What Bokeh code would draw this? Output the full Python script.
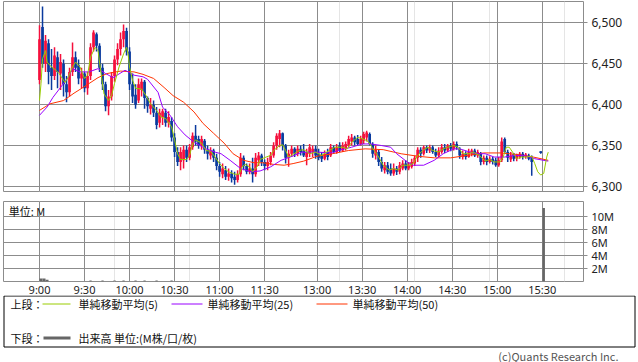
from bokeh.plotting import figure
from bokeh.layouts import column
from bokeh.models import Range1d, FixedTicker, NumeralTickFormatter, ColumnDataSource, Grid, Label
from bokeh.embed import file_html
from bokeh.resources import INLINE
from bokeh.core.properties import value

FONT = "Noto Sans CJK JP"
NUMFONT = "Noto Sans"

# time axis: minute index (9:00 = 0, lunch compressed, 15:30 = 335)
tick_idx = [0, 30, 60, 90, 120, 150, 185, 215, 245, 275, 305, 335]
tick_lbl = ["9:00", "9:30", "10:00", "10:30", "11:00", "11:30",
            "13:00", "13:30", "14:00", "14:30", "15:00", "15:30"]
price_ticks = [6300, 6350, 6400, 6450, 6500]
vol_ticks = [2, 4, 6, 8, 10]

# 2-minute bars (open, high, low, close), last one is the 15:30 close
bar_t = list(range(0, 330, 2)) + [334]
op = [6430,6495,6450,6475,6445,6435,6458,6438,6450,6425,6415,6440,6458,6448,6432,6438,6420,6435,6470,6486,
      6472,6445,6425,6398,6410,6435,6455,6468,6480,6490,6465,6425,6412,6405,6418,6428,6408,6395,6400,6390,
      6378,6385,6390,6378,6380,6360,6342,6330,6332,6345,6335,6348,6362,6358,6350,6356,6345,6338,6344,6335,
      6325,6315,6320,6312,6316,6312,6308,6315,6335,6325,6318,6322,6315,6332,6338,6330,6325,6330,6338,6350,
      6358,6365,6350,6335,6340,6346,6340,6346,6344,6336,6340,6342,6346,6340,6338,6334,6342,6338,6348,6342,
      6350,6344,6346,6350,6355,6360,6358,6352,6356,6360,6364,6352,6338,6342,6330,6320,6326,6322,6316,6322,
      6318,6322,6328,6322,6324,6328,6335,6345,6340,6348,6344,6348,6342,6338,6342,6348,6344,6350,6346,6352,
      6346,6336,6340,6336,6340,6344,6338,6340,6330,6335,6330,6334,6332,6326,6332,6358,6342,6333,6340,6334,
      6336,6340,6336,6338,6336,6343]
hi = [6497,6520,6485,6480,6468,6470,6465,6462,6455,6435,6445,6476,6465,6455,6445,6440,6440,6475,6491,6488,
      6475,6450,6428,6418,6440,6460,6475,6488,6498,6494,6470,6438,6425,6432,6432,6430,6410,6408,6405,6397,
      6395,6395,6395,6392,6385,6365,6348,6348,6350,6350,6352,6366,6375,6362,6362,6358,6350,6348,6346,6340,
      6330,6328,6325,6322,6320,6318,6320,6341,6338,6328,6328,6335,6341,6342,6340,6333,6335,6342,6354,6365,
      6369,6366,6352,6345,6350,6348,6350,6350,6352,6346,6352,6350,6350,6346,6342,6344,6346,6352,6350,6352,
      6354,6354,6355,6362,6364,6362,6363,6362,6367,6368,6366,6354,6350,6345,6336,6330,6330,6328,6328,6325,
      6330,6332,6332,6330,6334,6338,6348,6348,6350,6350,6351,6350,6346,6348,6352,6352,6352,6353,6355,6355,
      6348,6344,6343,6346,6346,6346,6345,6342,6338,6338,6337,6336,6335,6336,6360,6360,6345,6342,6341,6340,
      6342,6342,6341,6340,6338,6343]
lo = [6425,6445,6440,6425,6418,6430,6420,6418,6410,6403,6410,6435,6440,6425,6420,6415,6412,6430,6465,6465,
      6440,6418,6392,6387,6405,6428,6448,6460,6470,6460,6418,6402,6395,6402,6410,6395,6390,6388,6385,6370,
      6372,6375,6373,6372,6355,6336,6325,6320,6322,6330,6332,6345,6350,6346,6345,6340,6333,6333,6330,6320,
      6312,6310,6308,6307,6305,6302,6305,6312,6320,6315,6315,6305,6312,6325,6325,6320,6320,6326,6335,6345,
      6348,6344,6328,6324,6336,6336,6337,6338,6336,6326,6336,6336,6334,6332,6330,6332,6332,6336,6340,6340,
      6342,6342,6344,6348,6350,6350,6350,6350,6352,6355,6350,6335,6333,6325,6318,6316,6315,6313,6313,6314,
      6315,6320,6320,6320,6322,6325,6330,6335,6338,6341,6341,6340,6336,6336,6340,6341,6342,6343,6344,6345,
      6334,6333,6333,6335,6337,6336,6335,6326,6327,6326,6328,6327,6324,6324,6330,6340,6330,6330,6331,6331,
      6334,6333,6334,6332,6313,6340]
cl = [6480,6450,6478,6440,6435,6460,6440,6452,6425,6415,6440,6458,6445,6432,6438,6420,6435,6470,6488,6472,
      6445,6425,6398,6410,6435,6455,6468,6480,6490,6465,6425,6410,6400,6425,6428,6408,6398,6400,6390,6375,
      6390,6392,6378,6385,6360,6342,6330,6342,6345,6335,6348,6362,6355,6350,6358,6345,6340,6344,6335,6325,
      6318,6322,6312,6316,6310,6308,6315,6335,6325,6318,6322,6315,6335,6338,6330,6325,6330,6338,6350,6362,
      6365,6350,6335,6340,6346,6340,6346,6342,6338,6342,6348,6346,6338,6335,6334,6340,6336,6348,6342,6348,
      6344,6350,6352,6358,6360,6354,6352,6358,6364,6366,6352,6340,6345,6330,6322,6326,6318,6316,6322,6318,
      6326,6328,6322,6326,6330,6335,6345,6340,6348,6344,6348,6342,6338,6344,6348,6344,6350,6346,6352,6348,
      6338,6340,6336,6342,6344,6338,6342,6330,6335,6330,6334,6330,6326,6332,6355,6342,6335,6338,6334,6338,
      6340,6336,6339,6334,6330,6341]

# moving averages (minute index, price)
ma5_t = [0,1,2,4,5,8,11,13,17,19,22,24,27,30,32,34,37,39,41,43,46,48,50,53,56,58,59,60,62,64,68,71,74,78,81,84,88,90,
         92,94,98,100,102,104,108,111,114,117,120,123,126,130,133,135,137,140,142,145,147,151,154,156,160,162,164,166,
         168,172,175,177,180,184,188,193,197,202,205,208,212,214,217,219,223,226,229,233,236,239,242,246,249,252,256,
         259,262,266,269,272,276,279,282,286,289,293,297,300,303,307,309,311,313,316,318,321,324,328,330,332,334,336,338,339]
ma5_v = [6405,6426,6456,6466,6452,6446,6442,6438,6427,6433,6446,6452,6446,6432,6436,6458,6470,6466,6438,6413,6405,6411,
         6426,6446,6462,6470,6462,6446,6430,6420,6419,6411,6401,6393,6385,6383,6373,6357,6340,6333,6333,6338,6352,6357,
         6353,6344,6343,6336,6328,6322,6318,6315,6315,6324,6327,6324,6318,6324,6333,6336,6338,6344,6350,6351,6344,6336,
         6338,6343,6345,6344,6340,6342,6338,6344,6348,6348,6346,6354,6360,6359,6357,6355,6344,6336,6326,6320,6322,6320,
         6326,6326,6328,6338,6345,6348,6344,6342,6346,6348,6350,6348,6340,6340,6342,6338,6331,6333,6330,6330,6336,6348,
         6348,6340,6334,6336,6336,6337,6328,6318,6314,6316,6336,6342]
ma25_t = [0,5,9,14,19,22,27,33,39,44,49,57,63,69,72,79,82,87,92,97,101,105,111,117,121,127,134,141,147,154,161,167,175,
          185,195,199,208,215,221,228,234,238,245,249,256,263,269,276,280,287,293,297,303,310,317,323,330,339]
ma25_v = [6387,6397,6409,6421,6433,6444,6440,6440,6444,6438,6433,6442,6436,6434,6431,6415,6397,6387,6373,6363,6357,6352,
          6346,6342,6340,6332,6322,6318,6319,6324,6332,6336,6342,6342,6341,6344,6348,6352,6352,6350,6348,6340,6330,6326,
          6326,6332,6340,6346,6346,6342,6340,6340,6336,6336,6338,6338,6334,6331]
ma50_t = [0,7,16,23,29,39,45,54,63,69,76,83,89,96,103,109,116,123,129,136,143,149,156,163,169,176,185,195,206,217,229,
          241,252,263,274,285,296,307,319,329,339]
ma50_v = [6393,6401,6405,6414,6421,6433,6438,6441,6440,6437,6432,6421,6411,6403,6391,6377,6365,6353,6340,6332,6329,6329,
          6327,6326,6328,6331,6337,6340,6344,6346,6345,6340,6337,6335,6335,6338,6341,6341,6339,6336,6332]

# volume (millions) for bars with visible height
vol_t = [1, 3, 5, 34, 42, 50, 56, 64, 70, 78, 88, 336]
vol_v = [0.46, 0.46, 0.27, 0.15, 0.15, 0.15, 0.15, 0.15, 0.15, 0.15, 0.15, 11.3]

UP, DOWN = "#F5103C", "#0A3A9E"
GRID = "#8c8c8c"
W = 637
BL, BR = 3, 54
XR = Range1d(-24, 362.5)


def no_align(fig):
    if "frame_align" in fig.properties():
        fig.frame_align = False


src = ColumnDataSource(dict(
    t=bar_t, lo=lo, hi=hi,
    bot=[min(a, b) for a, b in zip(op, cl)],
    top=[max(a, b) for a, b in zip(op, cl)],
    color=[UP if c >= o else DOWN for o, c in zip(op, cl)],
))

p = figure(width=W, height=200, x_range=XR, y_range=Range1d(6293.9, 6526.0),
           output_backend="svg", toolbar_location=None, x_axis_location=None,
           y_axis_location="right", min_border_left=BL, min_border_right=BR,
           min_border_top=1, min_border_bottom=9)
p.outline_line_color = GRID
p.yaxis.ticker = FixedTicker(ticks=price_ticks)
p.ygrid.ticker = FixedTicker(ticks=price_ticks)
p.ygrid.grid_line_color = GRID
p.add_layout(Grid(dimension=0, ticker=FixedTicker(ticks=tick_idx), grid_line_color=GRID))
p.yaxis.formatter = NumeralTickFormatter(format="0,0")
ax = p.yaxis[0]
ax.axis_line_color = None
ax.major_tick_out = 4
ax.major_tick_in = 0
ax.minor_tick_out = 0
ax.minor_tick_in = 0
ax.major_tick_line_color = GRID
ax.major_label_text_font = NUMFONT
ax.major_label_text_font_size = "12px"
ax.major_label_text_color = "#222222"
ax.major_label_standoff = 4

p.vbar(x="t", width=1.0, bottom="lo", top="hi", fill_color="color", line_color=None, source=src)
p.vbar(x="t", width=1.8, bottom="bot", top="top", fill_color="color", line_color=None, source=src)
p.line(ma50_t, ma50_v, line_color="#FF3300", line_width=1)
p.line(ma25_t, ma25_v, line_color="#9900FF", line_width=1)
p.line(ma5_t, ma5_v, line_color="#99CC00", line_width=1)

v = figure(width=W, height=82, x_range=XR, y_range=Range1d(0, 12.3),
           output_backend="svg", toolbar_location=None, x_axis_location=None,
           y_axis_location="right", min_border_left=BL, min_border_right=BR,
           min_border_top=1, min_border_bottom=1)
v.outline_line_color = GRID
v.yaxis.ticker = FixedTicker(ticks=vol_ticks)
v.ygrid.ticker = FixedTicker(ticks=vol_ticks)
v.ygrid.grid_line_color = GRID
v.yaxis.major_label_overrides = {t: f"{t}M" for t in vol_ticks}
v.add_layout(Grid(dimension=0, ticker=FixedTicker(ticks=tick_idx), grid_line_color=GRID))
ay = v.yaxis[0]
ay.axis_line_color = None
ay.minor_tick_out = 0
ay.minor_tick_in = 0
ay.major_tick_in = 0
ay.major_tick_out = 4
ay.major_tick_line_color = GRID
ay.major_label_text_font = NUMFONT
ay.major_label_text_font_size = "11px"
ay.major_label_text_color = "#222222"
ay.major_label_standoff = 4
v.vbar(x=vol_t, width=[2, 2, 2, 1.5, 1.5, 1.5, 1.5, 1.5, 1.5, 1.5, 1.5, 1.6], bottom=0, top=vol_v,
       fill_color="#666666", line_color=None)
v.add_layout(Label(x=-20.5, y=12.05, text="単位: M", text_baseline="top", text_font=FONT,
                   text_font_size="11px", text_color="#111111"))

# time labels row (shares the x scale)
tl = figure(width=W, height=13, x_range=XR, y_range=Range1d(13, 0),
            output_backend="svg", toolbar_location=None, x_axis_location=None,
            y_axis_location=None, min_border_left=BL, min_border_right=BR,
            min_border_top=0, min_border_bottom=0)
tl.grid.visible = False
tl.outline_line_color = None
tl.text(x=tick_idx, y=[6.5] * len(tick_idx), text=tick_lbl, text_font=value(NUMFONT),
        text_font_size="11px", text_align="center", text_baseline="middle", text_color="#222222")

LH = 67
lg = figure(width=W, height=LH, x_range=Range1d(0, W), y_range=Range1d(LH, 0),
            output_backend="svg", toolbar_location=None, x_axis_location=None,
            y_axis_location=None, min_border=0, min_border_left=0, min_border_right=0,
            min_border_top=0, min_border_bottom=0)
no_align(lg)
lg.grid.visible = False
lg.outline_line_color = None
lg.quad(left=[3.5], right=[634.5], top=[0.5], bottom=[51.5], fill_color=None, line_color="black", line_width=1)
lg.segment(x0=[42, 171, 316], y0=[8.5, 8.5, 8.5], x1=[70, 202, 347], y1=[8.5, 8.5, 8.5],
           line_color=["#99CC00", "#9900FF", "#FF3300"], line_width=1)
lg.segment(x0=[43], y0=[42.5], x1=[70], y1=[42.5], line_color="#666666", line_width=3)
lg.text(x=[10, 78, 207, 352, 10, 78], y=[8.5, 8.5, 8.5, 8.5, 42.5, 42.5],
        text=["上段：", "単純移動平均(5)", "単純移動平均(25)", "単純移動平均(50)", "下段：", "出来高 単位:(M株/口/枚)"],
        text_font=value(FONT), text_font_size="11px", text_baseline="middle", text_align="left", text_color="#111111")
lg.text(x=[618], y=[60], text=["(c)Quants Research Inc."], text_font=value(FONT), text_font_size="11px",
        text_baseline="middle", text_align="right", text_color="#555555")

layout = column(p, v, tl, lg, spacing=0)
open("out.html", "w").write(file_html(layout, INLINE))
